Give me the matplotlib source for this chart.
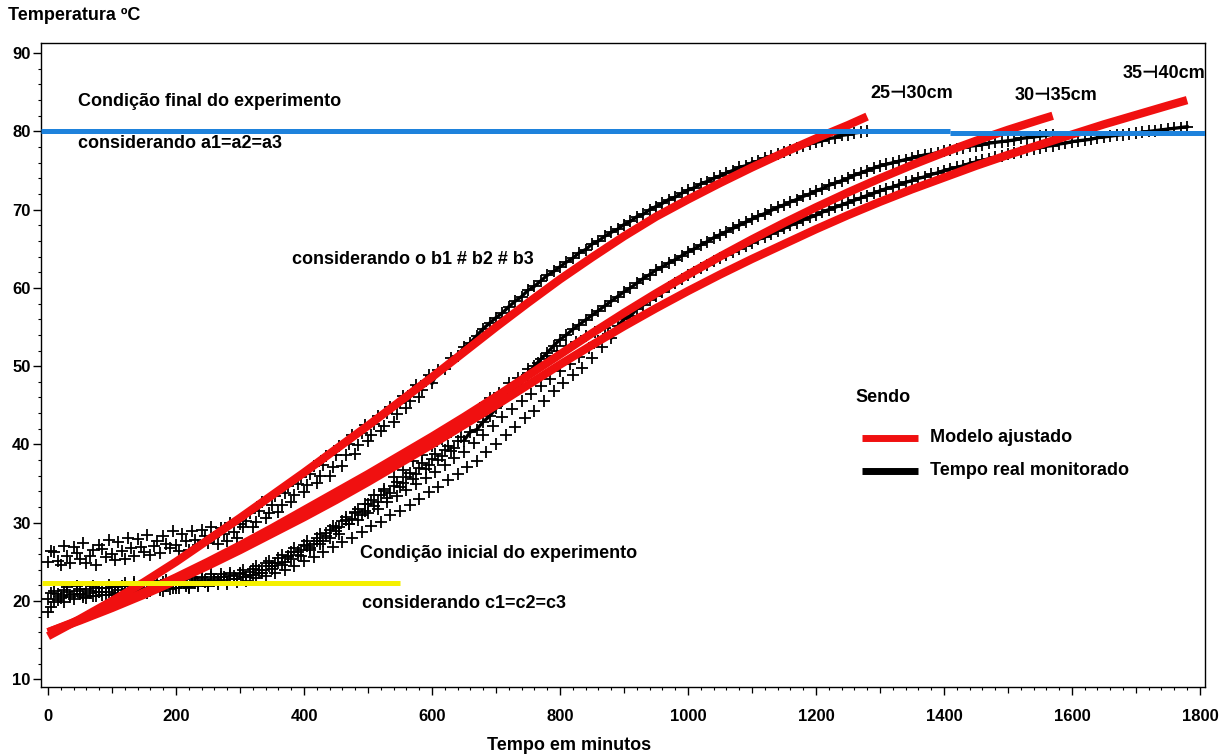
import matplotlib
matplotlib.use("Agg")
import matplotlib.pyplot as plt
from matplotlib.lines import Line2D
import numpy as np

# ---------------- data ----------------
# observed temperatures (every 10 minutes)
t_obs_a = list(range(0, 1281, 10))
obs_a = [25.0, 26.2, 24.6, 25.8, 26.9, 25.3, 24.8, 26.5, 27.2, 25.6,
         26.0, 27.5, 25.4, 26.8, 27.9, 26.3, 25.9, 27.6, 28.3, 26.7,
         27.1, 28.6, 26.5, 27.8, 29.0, 27.4, 28.2, 29.3, 27.6, 28.8,
         29.8, 30.2, 29.4, 31.5, 30.6, 32.3, 31.4, 33.8, 32.6, 35.0,
         33.9, 36.2, 35.1, 37.4, 36.0, 38.6, 37.3, 40.1, 38.8, 41.4,
         40.5, 42.6, 41.7, 44.0, 42.9, 45.3, 44.6, 46.8, 46.0, 48.1,
         47.8, 49.5, 49.6, 51.0, 51.3, 52.4, 53.0, 53.9, 54.8, 55.5,
         56.2, 56.8, 57.6, 58.3, 58.9, 59.7, 60.2, 60.9, 61.6, 62.1,
         62.7, 63.3, 63.8, 64.5, 64.9, 65.6, 66.0, 66.6, 67.1, 67.5,
         68.1, 68.5, 69.1, 69.4, 70.0, 70.4, 70.8, 71.3, 71.6, 72.1,
         72.5, 72.8, 73.3, 73.6, 74.0, 74.3, 74.7, 75.0, 75.4, 75.6,
         76.0, 76.2, 76.6, 76.8, 77.1, 77.4, 77.6, 77.9, 78.1, 78.4,
         78.6, 78.8, 79.1, 79.2, 79.5, 79.6, 79.8, 79.9, 80.1]
# extra readings in the noisy early part (5, 15, 25 ... min)
t_obs_a2 = list(range(5, 600, 10))
obs_a2 = [26.4, 25.1, 27.0, 24.9, 26.1, 27.4, 25.7, 24.6, 26.6, 27.8,
          25.2, 26.4, 28.1, 25.8, 26.9, 28.4, 27.0, 26.1, 27.3, 28.9,
          26.4, 27.7, 28.9, 27.1, 28.3, 29.5, 27.3, 28.6, 29.9, 28.1,
          29.4, 31.3, 30.1, 32.6, 31.2, 33.4, 32.3, 34.7, 33.5, 35.9,
          34.8, 37.3, 36.0, 38.5, 37.1, 39.8, 38.6, 41.2, 39.9, 42.5,
          41.2, 43.6, 42.4, 44.8, 43.9, 46.2, 45.5, 47.6, 47.0, 48.9]

t_obs_b = list(range(0, 1571, 10))
obs_b = [20.2, 21.3, 20.6, 21.8, 20.9, 21.5, 20.4, 21.9, 21.2, 20.7,
         21.8, 21.0, 22.3, 21.4, 20.9, 22.1, 21.6, 22.6, 21.3, 22.2,
         21.7, 22.9, 21.8, 22.5, 23.1, 22.0, 22.8, 23.4, 22.4, 23.2,
         23.6, 23.0, 24.1, 23.6, 24.8, 24.4, 25.5, 25.0, 26.3, 25.9,
         27.1, 26.8, 28.0, 27.6, 29.1, 28.9, 30.2, 29.8, 31.3, 31.0,
         32.4, 32.1, 33.6, 33.2, 34.7, 34.5, 35.9, 35.6, 37.0, 36.8,
         38.2, 38.0, 39.3, 39.1, 40.4, 40.5, 41.6, 41.9, 42.9, 43.6,
         44.6, 45.5, 46.4, 47.4, 48.2, 49.1, 50.0, 50.9, 51.7, 52.6,
         53.4, 54.0, 54.7, 55.3, 55.9, 56.5, 57.1, 57.7, 58.3, 58.9,
         59.5, 60.0, 60.6, 61.2, 61.7, 62.3, 62.7, 63.2, 63.6, 64.1,
         64.6, 65.0, 65.5, 65.9, 66.4, 66.8, 67.2, 67.6, 68.0, 68.4,
         68.8, 69.2, 69.5, 69.9, 70.3, 70.6, 71.0, 71.3, 71.7, 72.0,
         72.4, 72.7, 73.1, 73.4, 73.7, 74.0, 74.4, 74.7, 75.0, 75.3,
         75.6, 75.8, 76.0, 76.2, 76.4, 76.6, 76.8, 77.0, 77.1, 77.3,
         77.5, 77.6, 77.8, 77.9, 78.1, 78.2, 78.3, 78.5, 78.6, 78.7,
         78.8, 78.9, 79.1, 79.2, 79.3, 79.4, 79.5, 79.6]
t_obs_b2 = list(range(5, 650, 10))
obs_b2 = [21.0, 20.1, 21.4, 20.5, 21.9, 20.8, 21.3, 20.6, 21.7, 22.0,
          20.9, 21.9, 21.1, 22.4, 21.5, 21.0, 22.3, 21.8, 22.7, 21.6,
          22.4, 21.9, 23.0, 22.2, 22.7, 23.4, 22.5, 23.0, 23.6, 22.8,
          23.9, 23.3, 24.5, 24.0, 25.1, 24.9, 25.9, 25.6, 26.8, 26.5,
          27.6, 27.3, 28.6, 28.3, 29.6, 29.4, 30.7, 30.5, 31.8, 31.5,
          32.9, 32.7, 34.0, 33.8, 35.2, 35.1, 36.4, 36.2, 37.6, 37.4,
          38.8, 38.5, 39.8, 39.6, 40.9]

t_obs_c = list(range(0, 1781, 10))
obs_c = [18.6, 19.8, 20.4, 21.2, 20.3, 20.9, 21.5, 20.6, 21.1, 21.7,
         20.8, 21.4, 21.9, 21.0, 21.6, 22.2, 21.3, 21.8, 22.4, 21.5,
         22.0, 22.6, 21.7, 22.3, 22.9, 21.9, 22.5, 23.1, 22.2, 22.8,
         23.4, 22.6, 23.3, 24.0, 23.2, 24.1, 24.9, 24.0, 25.3, 26.2,
         25.1, 26.5, 27.6, 26.2, 28.1, 29.3, 27.5, 29.8, 31.4, 28.8,
         31.2, 33.5, 30.1, 32.6, 35.8, 31.5, 34.2, 37.9, 33.0, 35.7,
         39.8, 34.6, 37.4, 41.6, 36.2, 39.0, 43.8, 37.9, 41.2, 45.9,
         40.1, 43.5, 47.8, 42.2, 45.6, 49.6, 44.3, 47.5, 51.3, 46.8,
         49.4, 52.6, 48.9, 51.2, 53.8, 51.0, 53.2, 54.9, 53.6, 55.1,
         56.0, 56.4, 57.3, 57.8, 58.4, 59.0, 59.5, 60.1, 60.6, 61.1,
         61.6, 62.0, 62.5, 62.9, 63.4, 63.8, 64.2, 64.6, 65.0, 65.4,
         65.8, 66.2, 66.5, 66.9, 67.3, 67.6, 68.0, 68.3, 68.7, 69.0,
         69.3, 69.7, 70.0, 70.3, 70.6, 70.9, 71.2, 71.5, 71.8, 72.1,
         72.4, 72.7, 72.9, 73.2, 73.5, 73.7, 74.0, 74.2, 74.5, 74.7,
         75.0, 75.2, 75.4, 75.6, 75.9, 76.1, 76.3, 76.5, 76.7, 76.9,
         77.1, 77.3, 77.4, 77.6, 77.8, 77.9, 78.1, 78.2, 78.4, 78.5,
         78.7, 78.8, 78.9, 79.0, 79.2, 79.3, 79.4, 79.5, 79.6, 79.7,
         79.8, 79.9, 80.0, 80.1, 80.2, 80.3, 80.4, 80.5, 80.6]
t_obs_c2 = list(range(5, 880, 10))
obs_c2 = [19.2, 20.9, 19.9, 20.7, 21.3, 20.5, 21.0, 21.6, 20.7, 21.2,
          21.8, 20.9, 21.5, 22.1, 21.2, 21.7, 22.3, 21.4, 21.9, 22.5,
          21.6, 22.2, 22.8, 21.9, 22.4, 23.0, 22.1, 22.7, 23.3, 22.4,
          23.0, 23.7, 22.9, 23.6, 24.5, 23.6, 24.6, 25.7, 24.5, 25.8,
          27.0, 25.6, 27.3, 28.7, 26.9, 28.6, 30.4, 28.1, 30.3, 32.4,
          29.6, 31.8, 34.3, 31.0, 33.4, 36.7, 32.3, 35.0, 38.6, 33.9,
          36.5, 40.7, 35.5, 38.3, 42.7, 37.1, 40.2, 44.6, 39.0, 42.3,
          46.6, 41.2, 44.5, 48.5, 43.4, 46.5, 50.4, 45.6, 48.4, 52.0,
          47.9, 50.3, 53.1, 49.8, 52.3, 54.4, 52.5, 54.1]

# fitted model curves
t_fit_a = [0, 50, 100, 150, 200, 250, 300, 350, 400, 450, 500, 550, 600, 650,
           700, 750, 800, 850, 900, 950, 1000, 1050, 1100, 1150, 1200, 1250, 1280]
fit_a = [15.5, 17.7, 20.0, 22.4, 25.0, 27.8, 30.6, 33.5, 36.4, 39.4, 42.4, 45.5,
         48.6, 51.8, 55.0, 58.1, 61.1, 63.9, 66.6, 69.1, 71.3, 73.4, 75.4, 77.3,
         79.1, 80.8, 81.9]

t_fit_b = [0, 50, 100, 150, 200, 250, 300, 350, 400, 450, 500, 550, 600, 650,
           700, 750, 800, 850, 900, 950, 1000, 1050, 1100, 1150, 1200, 1250,
           1300, 1350, 1400, 1450, 1500, 1550, 1570]
fit_b = [16.0, 17.6, 19.3, 21.1, 23.0, 25.0, 27.1, 29.3, 31.6, 33.9, 36.2, 38.6,
         41.0, 43.5, 46.1, 48.8, 51.5, 54.2, 56.8, 59.3, 61.7, 64.0, 66.2, 68.3,
         70.3, 72.2, 74.0, 75.7, 77.3, 78.8, 80.2, 81.5, 82.0]

t_fit_c = [0, 50, 100, 150, 200, 250, 300, 350, 400, 450, 500, 550, 600, 650,
           700, 750, 800, 850, 900, 950, 1000, 1050, 1100, 1150, 1200, 1250,
           1300, 1350, 1400, 1450, 1500, 1550, 1600, 1650, 1700, 1750, 1780]
fit_c = [16.0, 17.5, 19.1, 20.8, 22.6, 24.5, 26.5, 28.6, 30.7, 32.9, 35.2, 37.6,
         40.0, 42.5, 45.0, 47.6, 50.2, 52.7, 55.1, 57.4, 59.6, 61.7, 63.7, 65.6,
         67.5, 69.3, 71.0, 72.6, 74.1, 75.6, 77.0, 78.3, 79.6, 80.9, 82.1, 83.3,
         84.0]

series_labels = ["25\u22a330cm", "30\u22a335cm", "35\u22a340cm"]
final_temp = 80.0
initial_temp = 22.3

x_ticks = list(range(0, 1801, 200))
y_ticks = list(range(10, 91, 10))

# ---------------- figure ----------------
plt.rcParams['font.family'] = ['Liberation Sans', 'DejaVu Sans']
plt.rcParams['font.weight'] = 'bold'

W, H = 1228, 756
fig = plt.figure(figsize=(W / 100, H / 100), dpi=100)

def fx(px):
    return px / W

def fy(py):
    return 1 - py / H

ax_l, ax_r, ax_t, ax_b = 41, 1205, 43, 687
ax = fig.add_axes([fx(ax_l), fy(ax_b), fx(ax_r) - fx(ax_l), fy(ax_t) - fy(ax_b)])
ax.set_xlim(-11, 1808)
ax.set_ylim(9.0, 91.3)

# observed data: crosses everywhere plus a trace where the record is dense
observed = [(t_obs_a, obs_a, t_obs_a2, obs_a2, 600),
            (t_obs_b, obs_b, t_obs_b2, obs_b2, 650),
            (t_obs_c, obs_c, t_obs_c2, obs_c2, 880)]
for t, v, t2, v2, start in observed:
    ta = np.asarray(t)
    va = np.asarray(v)
    m = ta >= start
    ax.plot(ta[m], va[m], color='black', linewidth=2.4, zorder=2)
    ax.plot(list(t) + list(t2), list(v) + list(v2), linestyle='none', marker='+',
            color='black', markersize=9, markeredgewidth=1.3, zorder=2)

# fitted curves
for t, v in [(t_fit_a, fit_a), (t_fit_b, fit_b), (t_fit_c, fit_c)]:
    ax.plot(t, v, color='#f01010', linewidth=6, solid_capstyle='butt', zorder=3)

# reference lines
ax.plot([-11, 1410], [final_temp + 0.1, final_temp + 0.1], color='#1e82dc',
        linewidth=3.6, solid_capstyle='butt', zorder=5)
ax.plot([1410, 1808], [final_temp - 0.25, final_temp - 0.25], color='#1e82dc',
        linewidth=3.6, solid_capstyle='butt', zorder=5)
ax.plot([-9, 550], [initial_temp, initial_temp], color='#f5f000',
        linewidth=3.6, solid_capstyle='butt', zorder=5)

# axes styling
for s in ax.spines.values():
    s.set_linewidth(1.0)
ax.set_xticks(x_ticks)
ax.set_xticklabels([str(v) for v in x_ticks], fontweight='bold')
ax.set_xticks([v for v in range(0, 1801, 20) if v % 100 != 0], minor=True)
ax.set_yticks(y_ticks)
ax.set_yticklabels([str(v) for v in y_ticks], fontweight='bold')
ax.set_yticks([v for v in range(10, 91, 2) if v % 10 != 0], minor=True)
ax.tick_params(axis='both', which='major', direction='out', length=5.5, width=1.0,
               labelsize=12)
ax.tick_params(axis='both', which='minor', direction='out', length=2.5, width=0.8)
ax.tick_params(axis='x', which='major', pad=10)
ax.tick_params(axis='y', which='major', pad=2)
sec = ax.secondary_xaxis('bottom')
sec.set_xticks(list(range(100, 1800, 200)))
sec.tick_params(direction='out', length=4, width=0.9, labelbottom=False)
sec.spines['bottom'].set_visible(False)

# texts
txt = dict(fontsize=13, fontweight='bold', color='black', va='center', ha='left')
fig.text(fx(8), fy(15), "Temperatura ºC", **txt)
fig.text(fx(78), fy(101), "Condição final do experimento", **txt)
fig.text(fx(78), fy(144), "considerando a1=a2=a3", **txt)
fig.text(fx(292), fy(260), "considerando o b1 # b2 # b3", **txt)
fig.text(fx(360), fy(553), "Condição inicial do experimento", **txt)
fig.text(fx(362), fy(603), "considerando c1=c2=c3", **txt)
fig.text(fx(870), fy(93), series_labels[0], **txt)
fig.text(fx(1015), fy(96), series_labels[1], **txt)
fig.text(fx(1123), fy(73), series_labels[2], **txt)
fig.text(fx(569), fy(745), "Tempo em minutos", fontsize=13, fontweight='bold',
         ha='center', va='center')

# legend (manual)
fig.text(fx(855), fy(397), "Sendo", **txt)
fig.add_artist(Line2D([fx(862), fx(918)], [fy(438), fy(438)], color='#f01010',
                      linewidth=5, solid_capstyle='butt'))
fig.add_artist(Line2D([fx(862), fx(918)], [fy(471), fy(471)], color='black',
                      linewidth=5, solid_capstyle='butt'))
fig.text(fx(930), fy(437), "Modelo ajustado", **txt)
fig.text(fx(930), fy(470), "Tempo real monitorado", **txt)

fig.savefig("out.png", dpi=100)
